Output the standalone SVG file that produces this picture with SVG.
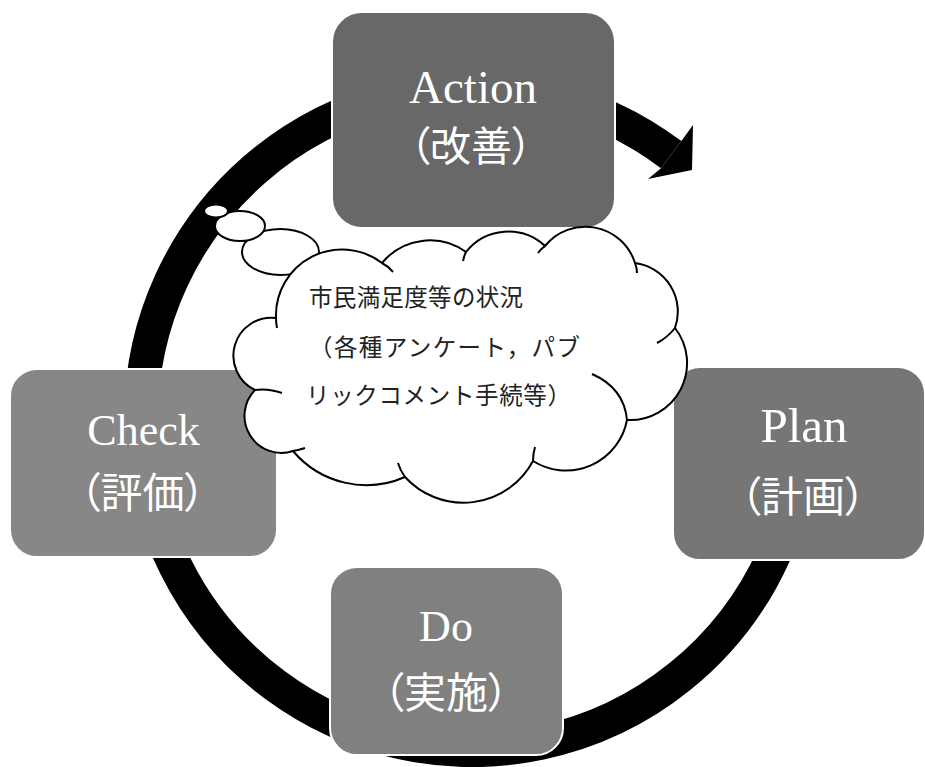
<svg xmlns="http://www.w3.org/2000/svg" width="925" height="767" viewBox="0 0 925 767">
  <style>
    .box { stroke: #ffffff; stroke-width: 2; }
    .en { font-family: "Liberation Serif", "Noto Sans CJK JP", serif; fill: #ffffff; text-anchor: middle; }
    .jp { font-family: "Noto Sans CJK JP", "Liberation Serif", sans-serif; fill: #ffffff; text-anchor: middle; font-size: 42px; font-feature-settings: "palt" 1; }
    .cloud { fill: #ffffff; stroke: #000000; stroke-width: 2; }
    .hook { fill: none; stroke: #000000; stroke-width: 2; }
    .ctext { font-family: "Noto Sans CJK JP", "Liberation Serif", sans-serif; font-size: 23.5px; fill: #222222; }
  </style>
  <rect width="925" height="767" fill="#ffffff"/>

  <g id="connectors">
    <path d="M 803 419 A 331 331 0 1 1 671.2 154.7" fill="none" stroke="#000000" stroke-width="34"/>
    <polygon points="681.4,141.1 693,125 692,170 648,179 661,168.2" fill="#000000"/>
  </g>

  <g id="node-action">
    <rect class="box" x="332" y="12" width="283" height="216" rx="30" ry="30" fill="#686868"/>
    <text class="en" x="473" y="103" font-size="47">Action</text>
    <text class="jp" x="471" y="161" font-size="41" style="font-size:41px">（改善）</text>
  </g>

  <g id="node-plan">
    <rect class="box" x="673" y="367" width="252" height="193" rx="27" ry="27" fill="#767676"/>
    <text class="en" x="804" y="442" font-size="49">Plan</text>
    <text class="jp" x="803" y="512">（計画）</text>
  </g>

  <g id="node-do">
    <rect class="box" x="330" y="567" width="233" height="188" rx="27" ry="27" fill="#808080"/>
    <text class="en" x="446" y="641" font-size="44">Do</text>
    <text class="jp" x="446" y="707.5">（実施）</text>
  </g>

  <g id="node-check">
    <rect class="box" x="10" y="369" width="267" height="188" rx="27" ry="27" fill="#878787"/>
    <text class="en" x="143.5" y="445" font-size="44">Check</text>
    <text class="jp" x="142.5" y="507.5">（評価）</text>
  </g>

  <g id="callout">
    <ellipse class="cloud" cx="280.5" cy="252" rx="38.5" ry="23"/>
    <ellipse class="cloud" cx="240" cy="226" rx="25" ry="15"/>
    <ellipse class="cloud" cx="216" cy="211" rx="12" ry="6.5"/>
    <path class="cloud" d="M 276 318 A 66 66 0 0 1 382 263 A 62 62 0 0 1 466 252 A 54 54 0 0 1 545 246 A 52 52 0 0 1 635 263 A 49 49 0 0 1 675 328 A 57 57 0 0 1 627 420 A 62 62 0 0 1 533 461 A 79 79 0 0 1 405 477 A 96 96 0 0 1 293 451 A 37 37 0 0 1 255 390 A 38 38 0 0 1 276 318 Z"/>
    <path class="hook" d="M 382 263 Q 388 266 393 272 M 466 252 Q 464 256 463 261 M 545 246 Q 541 249 538 253 M 635 263 Q 637 268 637 273 M 675 328 Q 667 338 657 343 M 592 374 Q 624 388 627 420 M 533 461 Q 533 454 535 447 M 405 477 Q 400 470 398 463 M 293 451 Q 299 450 305 448 M 255 390 Q 268 388 282 393 M 276 318 Q 276 323 277 328"/>
    <text class="ctext" x="309" y="306" textLength="214" lengthAdjust="spacing">市民満足度等の状況</text>
    <text class="ctext" x="309" y="356" textLength="271" lengthAdjust="spacing">（各種アンケート，パブ</text>
    <text class="ctext" x="306" y="404" textLength="265" lengthAdjust="spacing">リックコメント手続等）</text>
  </g>
</svg>
